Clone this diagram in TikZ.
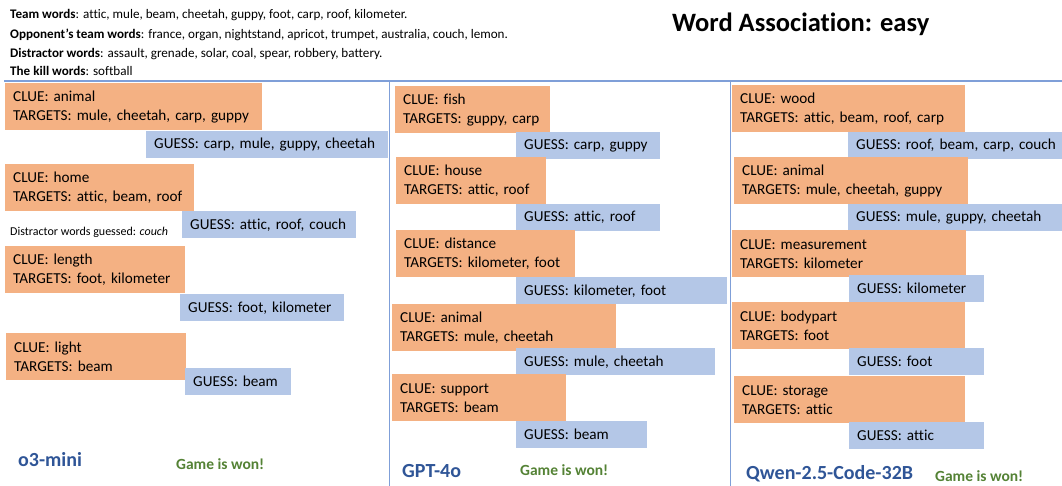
\documentclass[tikz,border=0pt]{standalone}
\usepackage{fontspec}
\setmainfont{Carlito}[Ligatures=NoCommon]
\usepackage{xcolor}
\definecolor{clueorange}{HTML}{F4B183}
\definecolor{guessblue}{HTML}{B4C7E7}
\definecolor{modelblue}{HTML}{2F5597}
\definecolor{wongreen}{HTML}{548235}
\definecolor{rulecol}{HTML}{7F9FD8}

\begin{document}
\begin{tikzpicture}[x=1pt,y=-1pt,
  box/.style={anchor=north west,inner xsep=8pt,inner ysep=0pt,align=left,font=\fontsize{15.2}{19}\selectfont},
  cluebox/.style={box,fill=clueorange,minimum height=47pt},
  guessbox/.style={box,fill=guessblue,minimum height=27pt},
  label/.style={anchor=base west,inner sep=0pt},
  info/.style={label,font=\fontsize{13.1}{15}\selectfont},
  model/.style={label,text=modelblue,font=\fontsize{20}{22}\selectfont\bfseries},
  won/.style={label,text=wongreen,font=\fontsize{15.5}{17}\selectfont\bfseries},
  divider/.style={rulecol,line width=1.2pt}]
\useasboundingbox (0,0) rectangle (1062,486);
% header
\node[info] (team) at (10,19) {\textbf{Team words}: attic, mule, beam, cheetah, guppy, foot, carp, roof, kilometer.};
\node[info] (opp) at (10,38.5) {\textbf{Opponent's team words}: france, organ, nightstand, apricot, trumpet, australia, couch, lemon.};
\node[info] (dist) at (10,57.5) {\textbf{Distractor words}: assault, grenade, solar, coal, spear, robbery, battery.};
\node[info] (kill) at (10,76) {\textbf{The kill words}: softball};
\node[label,font=\fontsize{26.5}{30}\selectfont\bfseries] (title) at (672,31.5) {Word Association: easy};
% dividers
\draw[divider] (4,81) -- (1062,81);
\draw[divider] (389.5,81) -- (389.5,486);
\draw[divider] (730.5,81) -- (730.5,486);
% o3-mini
\node[cluebox,text width=241pt] (oc1) at (5,83) {CLUE: animal\\TARGETS: mule, cheetah, carp, guppy};
\node[guessbox,text width=226pt] (og1) at (146,131) {GUESS: carp, mule, guppy, cheetah};
\node[cluebox,text width=173pt] (oc2) at (5,164) {CLUE: home\\TARGETS: attic, beam, roof};
\node[guessbox,text width=158pt] (og2) at (182,211) {GUESS: attic, roof, couch};
\node[label,font=\fontsize{12}{14}\selectfont] (odist) at (10,235.5) {Distractor words guessed: \textit{couch}};
\node[cluebox,text width=164pt] (oc3) at (5,246) {CLUE: length\\TARGETS: foot, kilometer};
\node[guessbox,text width=148pt] (og3) at (180,294) {GUESS: foot, kilometer};
\node[cluebox,text width=164pt] (oc4) at (6,333) {CLUE: light\\TARGETS: beam};
\node[guessbox,text width=90pt] (og4) at (185,368) {GUESS: beam};
\node[model] (omodel) at (18,466) {o3-mini};
\node[won] (owon) at (176,469) {Game is won!};
% GPT-4o
\node[cluebox,text width=139pt] (gc1) at (395,86) {CLUE: fish\\TARGETS: guppy, carp};
\node[guessbox,text width=128pt] (gg1) at (516,132) {GUESS: carp, guppy};
\node[cluebox,text width=134pt] (gc2) at (396,157) {CLUE: house\\TARGETS: attic, roof};
\node[guessbox,text width=128pt] (gg2) at (516,204) {GUESS: attic, roof};
\node[cluebox,text width=163pt] (gc3) at (396,230) {CLUE: distance\\TARGETS: kilometer, foot};
\node[guessbox,text width=195pt] (gg3) at (516,277) {GUESS: kilometer, foot};
\node[cluebox,text width=208pt] (gc4) at (392,304) {CLUE: animal\\TARGETS: mule, cheetah};
\node[guessbox,text width=183pt] (gg4) at (516,348) {GUESS: mule, cheetah};
\node[cluebox,text width=158pt] (gc5) at (392,374) {CLUE: support\\TARGETS: beam};
\node[guessbox,text width=115pt] (gg5) at (516,421) {GUESS: beam};
\node[model] (gmodel) at (402,477) {GPT-4o};
\node[won] (gwon) at (520,475) {Game is won!};
% Qwen (first two guesses run off the right edge)
\node[cluebox,text width=217pt] (qc1) at (732,85) {CLUE: wood\\TARGETS: attic, beam, roof, carp};
\node[guessbox,text width=206pt] (qg1) at (848,132) {GUESS: roof, beam, carp, couch};
\node[cluebox,text width=218pt] (qc2) at (734,157) {CLUE: animal\\TARGETS: mule, cheetah, guppy};
\node[guessbox,text width=206pt] (qg2) at (848,204) {GUESS: mule, guppy, cheetah};
\node[cluebox,text width=218pt] (qc3) at (732,230) {CLUE: measurement\\TARGETS: kilometer};
\node[guessbox,text width=119pt] (qg3) at (849,275) {GUESS: kilometer};
\node[cluebox,text width=217pt] (qc4) at (732,302) {CLUE: bodypart\\TARGETS: foot};
\node[guessbox,text width=119pt] (qg4) at (849,348) {GUESS: foot};
\node[cluebox,text width=215pt] (qc5) at (734,376) {CLUE: storage\\TARGETS: attic};
\node[guessbox,text width=119pt] (qg5) at (849,422) {GUESS: attic};
\node[model] (qmodel) at (746,479) {Qwen-2.5-Code-32B};
\node[won] (qwon) at (935,481) {Game is won!};
\end{tikzpicture}
\end{document}
